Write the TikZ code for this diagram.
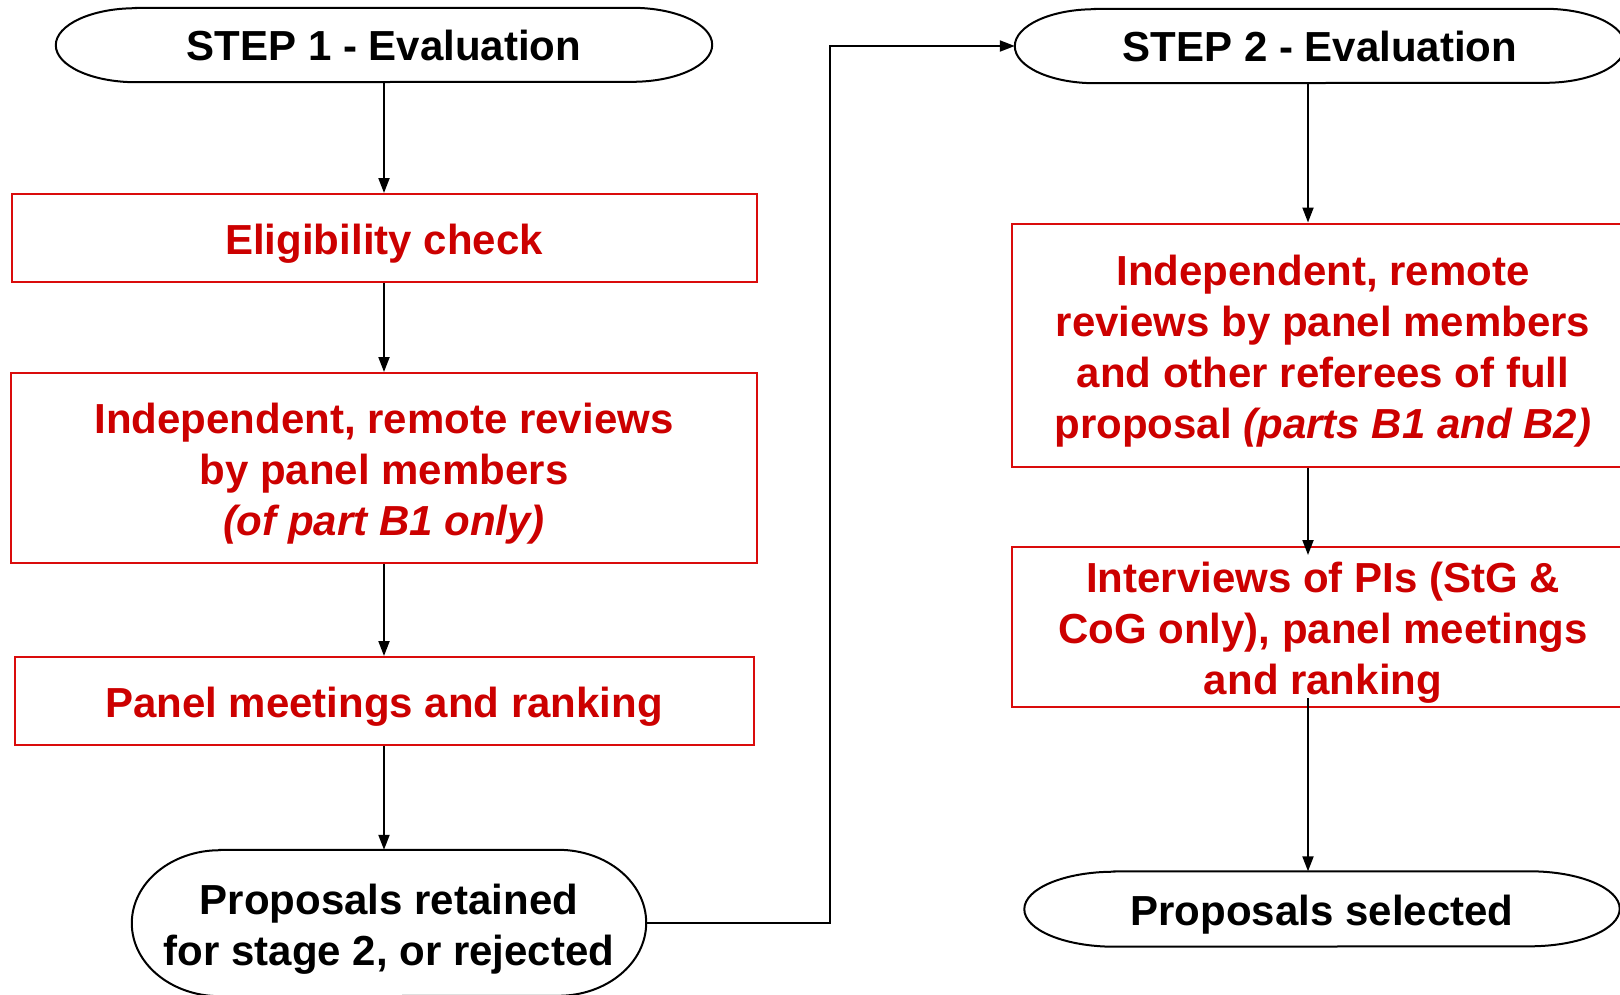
\documentclass[tikz,border=0pt]{standalone}
\usepackage{fontspec}
\setmainfont{Liberation Sans}
\usetikzlibrary{arrows.meta,calc}
\definecolor{txtred}{RGB}{204,0,0}
\definecolor{boxred}{RGB}{218,12,12}
\tikzset{
  lbl/.style={font=\fontsize{42}{51}\selectfont\bfseries, align=center, inner sep=0pt},
  redbox/.style={inner sep=0pt, draw=boxred, line width=2pt},
  redtext/.style={lbl, text=txtred, yshift=-6pt},
  term/.style={inner sep=0pt},
  termtext/.style={lbl, text=black, yshift=-6pt},
  conn/.style={line width=2pt, -{Triangle[length=15pt,width=11pt]}},
  termline/.style={line width=2pt},
}
\newcommand\stadium[3]{%
  \draw[termline] let \p1=(#1.north west), \p2=(#1.south east) in
    (\x1+#2pt,\y1) -- (\x2-#2pt,\y1)
    arc[start angle=90,end angle=-90,x radius=#2pt,y radius=#3pt]
    -- (\x1+#2pt,\y2)
    arc[start angle=270,end angle=90,x radius=#2pt,y radius=#3pt] -- cycle;}
\begin{document}
\begin{tikzpicture}[x=1pt,y=-1pt]
\useasboundingbox (0,0) rectangle (1620,994);
\clip (0,0) rectangle (1620,994);
% left column
\node[term, minimum width=656pt, minimum height=74pt,
  label={[termtext,yshift=6pt]center:STEP 1 - Evaluation}] (s1) at (384,45) {};
\stadium{s1}{80}{37}
\node[redbox, minimum width=745pt, minimum height=88pt,
  label={[redtext]center:Eligibility check}] (elig) at (384,238) {};
\node[redbox, minimum width=746pt, minimum height=190pt,
  label={[redtext]center:{Independent, remote reviews\\by panel members\\\textit{(of part B1 only)}}}] (rev1) at (384,468) {};
\node[redbox, minimum width=739pt, minimum height=88pt,
  label={[redtext]center:Panel meetings and ranking}] (panel) at (384,701) {};
\node[term, minimum width=514pt, minimum height=146pt,
  label={[termtext]center:{Proposals retained\\for stage 2, or rejected}}] (ret) at (389,923) {};
\stadium{ret}{88}{73}
% right column
\node[term, minimum width=610pt, minimum height=74pt,
  label={[termtext,yshift=6pt]center:STEP 2 - Evaluation}] (s2) at (1320,46) {};
\stadium{s2}{80}{37}
\node[redbox, minimum width=622pt, minimum height=243pt,
  label={[redtext]center:{Independent, remote\\reviews by panel members\\and other referees of full\\proposal \textit{(parts B1 and B2)}}}] (rev2) at (1323,345) {};
\node[redbox, minimum width=622pt, minimum height=160pt,
  label={[redtext]center:{Interviews of PIs (StG \&\\CoG only), panel meetings\\and ranking}}] (int) at (1323,627) {};
\node[term, minimum width=595pt, minimum height=75pt,
  label={[termtext]center:Proposals selected}] (sel) at (1322,909) {};
\stadium{sel}{90}{37.5}
% connectors
\draw[conn] (s1.south) -- (elig.north);
\draw[conn] (elig.south) -- (rev1.north);
\draw[conn] (rev1.south) -- (panel.north);
\draw[conn] (panel.south) -- (panel.south |- ret.north);
\coordinate (bend) at (830,0);
\draw[conn] (ret.east) -- (bend |- ret.east) -- (bend |- s2.west) -- (s2.west);
\coordinate (rc) at (1308,0);
\draw[conn] (rc |- s2.south) -- (rc |- rev2.north);
\draw[conn, shorten >=-9pt] (rc |- rev2.south) -- (rc |- int.north);
\draw[conn, shorten <=-10pt] (rc |- int.south) -- (rc |- sel.north);
\end{tikzpicture}
\end{document}
